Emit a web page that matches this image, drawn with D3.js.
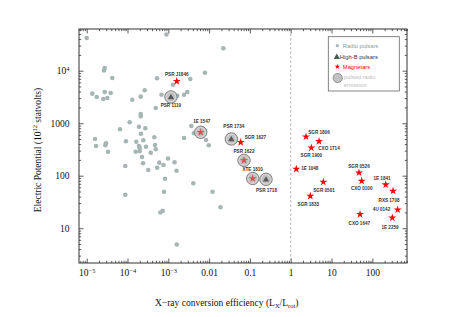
<!DOCTYPE html>
<html>
<head>
<meta charset="utf-8">
<script src="https://cdn.jsdelivr.net/npm/d3@7"></script>
<style>
  body { margin: 0; background: #fff; }
  svg { display: block; }
</style>
</head>
<body>
<div id="chart"></div>
<script>
// radio pulsars: [Lx/Lrot, electric potential (1e12 statvolts)]
var radioPulsars = [
  [1.0e-5, 42000], [9.0e-4, 49000], [0.0223, 26700], [2.76e-5, 11250], [2.65e-5, 10100],
  [4.24e-5, 7260], [5.28e-4, 7170], [7.9e-3, 9160], [3.46e-3, 6950], [1.30e-3, 5410],
  [1.37e-5, 3650], [1.76e-5, 3150], [2.76e-5, 3930], [3.87e-5, 3760], [2.55e-5, 2890],
  [3.2e-5, 3020], [1.31e-4, 2800], [2.64e-4, 4240], [2.11e-4, 3200], [6.81e-4, 3490],
  [4.91e-4, 1950], [2.11e-4, 1500], [2.11e-4, 1360], [1.66e-3, 3340], [2.43e-3, 3470],
  [2.92e-3, 3930], [1.13e-4, 1040], [6.55e-5, 766], [1.91e-4, 857], [2.73e-4, 800],
  [2.14e-4, 631], [4.54e-4, 538], [2.43e-3, 522], [1.6e-5, 500], [1.69e-5, 368],
  [2.97e-5, 414], [2.86e-5, 379], [3.33e-5, 286], [9.18e-5, 452], [1.64e-4, 444],
  [2.44e-4, 472], [1.91e-4, 368], [1.99e-4, 333], [2.84e-4, 356], [4.72e-4, 385],
  [4.91e-4, 318], [1.59e-4, 286], [1.99e-4, 292], [3.7e-4, 274], [2.27e-4, 227],
  [2.4e-4, 172], [8.83e-5, 153], [3.23e-4, 128], [6.02e-4, 177], [7.62e-4, 160],
  [9.84e-4, 213], [1.42e-3, 180], [5.34e-4, 142], [1.59e-3, 124], [8.3e-4, 87.7],
  [3.66e-3, 885], [4.26e-3, 643], [8.4e-3, 479], [9.78e-3, 379], [4.1e-3, 71.6],
  [7.85e-4, 49.5], [1.21e-2, 49.5], [1.9e-2, 25.1], [6.37e-4, 19.9], [7.29e-4, 21.4],
  [1.61e-3, 4.9], [8.83e-5, 43.4]
];

// high-B pulsars (all with pulsed radio emission)
var highBNames = ["PSR 1119", "PSR 1734", "PSR 1718"];
var highBX = [1.16e-3, 0.035, 0.248];
var highBY = [3160, 500, 85.3];

// magnetars
var magnetarNames = ["PSR J1846", "1E 1547", "SGR 1627", "PSR 1622", "XTE 1810",
  "SGR 1806", "CXO 1714", "SGR 1900", "1E 1048", "SGR 0501", "SGR 1833",
  "SGR 0526", "CXO 0100", "CXO 1647", "1E 1841", "RXS 1708", "4U 0142", "1E 2259"];
var magnetarX = [1.61e-3, 6.22e-3, 0.0595, 0.0717, 0.117,
  2.37, 4.94, 3.2, 1.37, 6.3, 3.02,
  47.2, 55, 50, 213, 322, 419, 309];
var magnetarY = [6280, 671, 433, 196, 88.5,
  553, 452, 341, 134, 75.9, 41,
  114, 79.3, 18.4, 67.5, 51.2, 22.5, 15.8];
var magnetarRadio = ["1E 1547", "PSR 1622", "XTE 1810"];

// tick labels
var xTicks = [1e-5, 1e-4, 1e-3, 0.01, 0.1, 1, 10, 100];
var xTickLabels = ["10^\u22125", "10^\u22124", "10^\u22123", "0.01", "0.1", "1", "10", "100"];
var yTicks = [10, 100, 1000, 1e4];
var yTickLabels = ["10", "100", "1000", "10^4"];

// label offsets [dx, dy, anchor] (layout only)
var labelPos = {
  "PSR J1846": [0, -5.5, "middle"], "PSR 1119": [0, 10.5, "middle"],
  "1E 1547": [1, -9.5, "middle"], "PSR 1734": [2.5, -11.3, "middle"],
  "SGR 1627": [4, -3.2, "start"], "PSR 1622": [0, -7.3, "middle"],
  "XTE 1810": [0, -7, "middle"], "PSR 1718": [0.5, 13, "middle"],
  "SGR 1806": [13, -2.4, "middle"], "CXO 1714": [10, 8.7, "middle"],
  "SGR 1900": [0, 9, "middle"], "1E 1048": [5, 1.3, "start"],
  "SGR 0501": [0.7, 10.3, "middle"], "SGR 1833": [-2, 10.3, "middle"],
  "SGR 0526": [0, -4.8, "middle"], "CXO 0100": [0, 9.3, "middle"],
  "CXO 1647": [-0.7, 10.3, "middle"], "1E 1841": [-3.7, -4.8, "middle"],
  "RXS 1708": [-4, 10.6, "middle"], "4U 0142": [-7.5, 1.5, "end"],
  "1E 2259": [-2.3, 11.2, "middle"]
};

var svgWidth = 449, svgHeight = 317;
var margin = { top: 29, right: 42, bottom: 54, left: 79 };
var width = svgWidth - margin.left - margin.right;
var height = svgHeight - margin.top - margin.bottom;

var svg = d3.select("#chart").append("svg")
  .attr("width", svgWidth)
  .attr("height", svgHeight);
var chart = svg.append("g")
  .attr("transform", `translate(${margin.left}, ${margin.top})`);

var x = d3.scaleLog()
  .domain([Math.pow(10, -5.189), Math.pow(10, 2.85)])
  .range([0, width]);
var y = d3.scaleLog()
  .domain([Math.pow(10, 0.337), Math.pow(10, 4.794)])
  .range([height, 0]);

function minorTicks(scale) {
  var d = scale.domain(), out = [];
  for (var e = Math.floor(Math.log10(d[0])); e <= Math.ceil(Math.log10(d[1])); e++) {
    for (var m = 2; m <= 9; m++) {
      var v = m * Math.pow(10, e);
      if (v >= d[0] && v <= d[1]) out.push(v);
    }
  }
  return out;
}

// inward ticks on all four sides
function tickGroup(axis, transform) {
  chart.append("g")
    .attr("transform", transform)
    .call(axis.tickFormat(""))
    .call(g => g.select(".domain").remove())
    .selectAll("line").attr("stroke", "#333").attr("stroke-width", 0.8);
}
tickGroup(d3.axisBottom(x).tickValues(xTicks).tickSize(-4.5), `translate(0, ${height})`);
tickGroup(d3.axisBottom(x).tickValues(minorTicks(x)).tickSize(-2.2), `translate(0, ${height})`);
tickGroup(d3.axisTop(x).tickValues(xTicks).tickSize(-4.5), "translate(0, 0)");
tickGroup(d3.axisTop(x).tickValues(minorTicks(x)).tickSize(-2.2), "translate(0, 0)");
tickGroup(d3.axisLeft(y).tickValues(yTicks).tickSize(-4.5), "translate(0, 0)");
tickGroup(d3.axisLeft(y).tickValues(minorTicks(y)).tickSize(-2.2), "translate(0, 0)");
tickGroup(d3.axisRight(y).tickValues(yTicks).tickSize(-4.5), `translate(${width}, 0)`);
tickGroup(d3.axisRight(y).tickValues(minorTicks(y)).tickSize(-2.2), `translate(${width}, 0)`);

// write "10^-5" style labels with a superscript
function supText(sel, label) {
  sel.text(null);
  var parts = label.split("^");
  sel.append("tspan").text(parts[0]);
  if (parts[1]) {
    sel.append("tspan").attr("dy", "-0.45em").attr("font-size", "0.68em").text(parts[1]);
  }
}

var xLab = chart.append("g")
  .attr("transform", `translate(0, ${height})`)
  .call(d3.axisBottom(x).tickValues(xTicks).tickSize(0).tickPadding(6))
  .call(g => g.select(".domain").remove());
xLab.selectAll("text")
  .attr("font-family", "Liberation Serif, Times New Roman, serif")
  .attr("font-size", "9.5px")
  .attr("fill", "#111")
  .each(function(d, i) { supText(d3.select(this), xTickLabels[i]); });

var yLab = chart.append("g")
  .call(d3.axisLeft(y).tickValues(yTicks).tickSize(0).tickPadding(9.5))
  .call(g => g.select(".domain").remove());
yLab.selectAll("text")
  .attr("font-family", "Liberation Serif, Times New Roman, serif")
  .attr("font-size", "9.5px")
  .attr("fill", "#111")
  .each(function(d, i) { supText(d3.select(this), yTickLabels[i]); });

// dashed line at Lx = Lrot
chart.append("line")
  .attr("x1", x(1)).attr("x2", x(1))
  .attr("y1", 0).attr("y2", height)
  .attr("stroke", "#aaa")
  .attr("stroke-width", 0.9)
  .attr("stroke-dasharray", "2.5,2");

// radio pulsars
chart.selectAll("circle.radio")
  .data(radioPulsars)
  .enter()
  .append("circle")
  .attr("class", "radio")
  .attr("cx", d => x(d[0]))
  .attr("cy", d => y(d[1]))
  .attr("r", 2.3)
  .attr("fill", "#a5b6b4");

var highB = highBNames.map((n, i) => ({ name: n, x: highBX[i], y: highBY[i], radio: true }));
var magnetars = magnetarNames.map((n, i) => ({
  name: n, x: magnetarX[i], y: magnetarY[i], radio: magnetarRadio.indexOf(n) >= 0
}));

// pulsed radio emission rings
function radioRing(g) {
  g.append("circle").attr("r", 6.2).attr("fill", "#c2c2c2").attr("stroke", "#7d7d7d").attr("stroke-width", 1);
  g.append("circle").attr("r", 4.9).attr("fill", "none").attr("stroke", "#e2e2e2").attr("stroke-width", 0.7);
}
chart.selectAll("g.ring")
  .data(highB.concat(magnetars.filter(d => d.radio)))
  .enter()
  .append("g")
  .attr("class", "ring")
  .attr("transform", d => `translate(${x(d.x)}, ${y(d.y)})`)
  .each(function() { radioRing(d3.select(this)); });

chart.selectAll("path.highb")
  .data(highB)
  .enter()
  .append("path")
  .attr("class", "highb")
  .attr("d", d3.symbol().type(d3.symbolTriangle).size(17))
  .attr("transform", d => `translate(${x(d.x)}, ${y(d.y) + 0.5})`)
  .attr("fill", "#575757");

chart.selectAll("path.mag")
  .data(magnetars)
  .enter()
  .append("path")
  .attr("class", "mag")
  .attr("d", d3.symbol().type(d3.symbolStar).size(20))
  .attr("transform", d => `translate(${x(d.x)}, ${y(d.y)})`)
  .attr("fill", d => d.radio ? "#dc4f4f" : "#ff0000");

// source names
chart.selectAll("text.name")
  .data(highB.concat(magnetars))
  .enter()
  .append("text")
  .attr("class", "name")
  .attr("x", d => x(d.x) + labelPos[d.name][0])
  .attr("y", d => y(d.y) + labelPos[d.name][1])
  .attr("text-anchor", d => labelPos[d.name][2])
  .attr("font-family", "Liberation Sans, Arial, sans-serif")
  .attr("font-weight", "bold")
  .attr("font-size", "4.6px")
  .attr("fill", "#333")
  .text(d => d.name);

// frame
chart.append("rect")
  .attr("width", width).attr("height", height)
  .attr("fill", "none")
  .attr("stroke", "#333")
  .attr("stroke-width", 1);

// legend
var legend = chart.append("g").attr("transform", `translate(${328.3 - margin.left}, ${36.7 - margin.top})`);
legend.append("rect")
  .attr("width", 71).attr("height", 54.3)
  .attr("fill", "#fff").attr("stroke", "#666").attr("stroke-width", 0.8);
var lf = "Liberation Sans, Arial, sans-serif";
legend.append("circle").attr("cx", 9).attr("cy", 9).attr("r", 1.6).attr("fill", "#a5b6b4");
legend.append("text").attr("x", 14.5).attr("y", 11).attr("font-family", lf).attr("font-size", "5.8px")
  .attr("fill", "#8a9a98").text("Radio pulsars");
legend.append("path").attr("d", d3.symbol().type(d3.symbolTriangle).size(17)())
  .attr("transform", "translate(8.5, 20.5)").attr("fill", "#575757");
legend.append("text").attr("x", 11.5).attr("y", 22.3).attr("font-family", lf).attr("font-size", "5.8px")
  .attr("fill", "#333").text("High-B pulsars");
legend.append("path").attr("d", d3.symbol().type(d3.symbolStar).size(9)())
  .attr("transform", "translate(9, 30)").attr("fill", "#ff0000");
legend.append("text").attr("x", 14.5).attr("y", 32).attr("font-family", lf).attr("font-size", "5.8px")
  .attr("fill", "#ff0000").text("Magnetars");
legend.append("circle").attr("cx", 9.4).attr("cy", 41.3).attr("r", 4.6)
  .attr("fill", "#c2c2c2").attr("stroke", "#7d7d7d").attr("stroke-width", 0.8);
legend.append("text").attr("x", 15.5).attr("y", 42).attr("font-family", lf).attr("font-size", "5.8px")
  .attr("fill", "#bcbcbc").text("pulsed radio");
legend.append("text").attr("x", 15.5).attr("y", 50.5).attr("font-family", lf).attr("font-size", "5.8px")
  .attr("fill", "#bcbcbc").text("emission");

// axis titles
var xt = svg.append("text")
  .attr("x", 226.7).attr("y", 306)
  .attr("text-anchor", "middle")
  .attr("font-family", "Liberation Serif, Times New Roman, serif")
  .attr("font-size", "9.5px")
  .attr("fill", "#111");
xt.append("tspan").text("X\u2212ray conversion efficiency (L");
xt.append("tspan").attr("dy", "2").attr("font-size", "6.5px").text("X");
xt.append("tspan").attr("dy", "-2").text("/L");
xt.append("tspan").attr("dy", "2").attr("font-size", "6.5px").text("rot");
xt.append("tspan").attr("dy", "-2").text(")");

var yt = svg.append("text")
  .attr("transform", "translate(40.5, 150) rotate(-90)")
  .attr("text-anchor", "middle")
  .attr("font-family", "Liberation Serif, Times New Roman, serif")
  .attr("font-size", "9.5px")
  .attr("fill", "#111");
yt.append("tspan").text("Electric Potential (10");
yt.append("tspan").attr("dy", "-3.5").attr("font-size", "6.5px").text("12");
yt.append("tspan").attr("dy", "3.5").text(" statvolts)");
</script>
</body>
</html>
